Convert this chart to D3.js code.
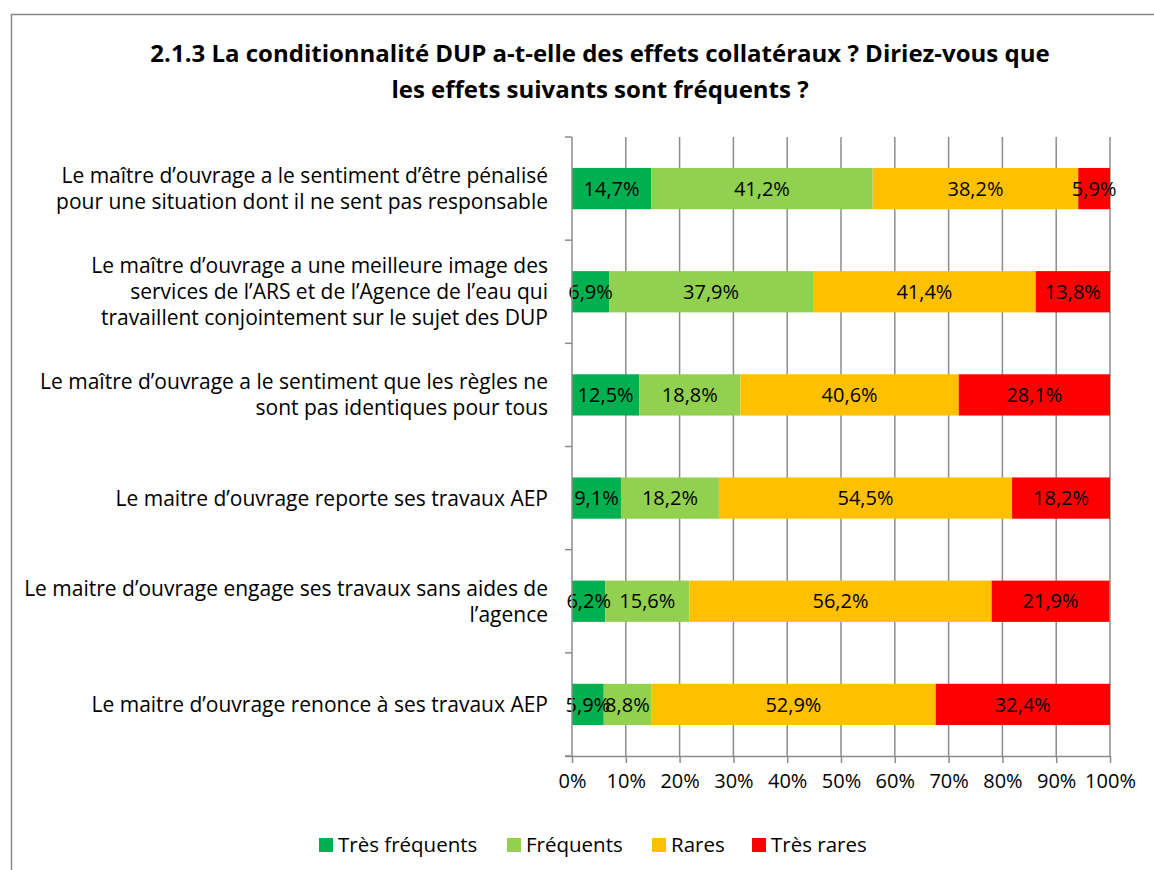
<!DOCTYPE html>
<html>
<head>
<meta charset="utf-8">
<script src="https://cdn.jsdelivr.net/npm/d3@7"></script>
<style>
  body { margin: 0; background: #fff; }
  svg { font-family: "Open Sans", sans-serif; }
</style>
</head>
<body>
<svg id="chart" width="1154" height="870"></svg>
<script>
// ----- data -----
const titleLines = [
    "2.1.3 La conditionnalité DUP a-t-elle des effets collatéraux ? Diriez-vous que",
    "les effets suivants sont fréquents ?"
];
const categories = [
    ["Le maître d’ouvrage a le sentiment d’être pénalisé", "pour une situation dont il ne sent pas responsable"],
    ["Le maître d’ouvrage a une meilleure image des", "services de l’ARS et de l’Agence de l’eau qui", "travaillent conjointement sur le sujet des DUP"],
    ["Le maître d’ouvrage a le sentiment que les règles ne", "sont pas identiques pour tous"],
    ["Le maitre d’ouvrage reporte ses travaux AEP"],
    ["Le maitre d’ouvrage engage ses travaux sans aides de", "l’agence"],
    ["Le maitre d’ouvrage renonce à ses travaux AEP"]
];
const seriesNames = ["Très fréquents", "Fréquents", "Rares", "Très rares"];
const tresFrequents = [14.7, 6.9, 12.5, 9.1, 6.2, 5.9];
const frequents = [41.2, 37.9, 18.8, 18.2, 15.6, 8.8];
const rares = [38.2, 41.4, 40.6, 54.5, 56.2, 52.9];
const tresRares = [5.9, 13.8, 28.1, 18.2, 21.9, 32.4];
const xTicks = [0, 10, 20, 30, 40, 50, 60, 70, 80, 90, 100];
const colors = ["#00B050", "#92D050", "#FFC000", "#FF0000"];

// ----- layout -----
const svg = d3.select("#chart");
const plot = { left: 572, right: 1110, top: 137, bottom: 756 };
const fmt = (v) => v.toFixed(1).replace(".", ",") + "%";

// frame (only top & left edges visible in the crop)
svg.append("path")
    .attr("d", "M11.5,870 V14.5 H1154")
    .attr("fill", "none")
    .attr("stroke", "#888")
    .attr("stroke-width", 1.5);

// title
svg.append("g")
    .selectAll("text")
    .data(titleLines)
    .join("text")
    .attr("x", 600)
    .attr("y", (d, i) => 62 + i * 36)
    .attr("text-anchor", "middle")
    .attr("font-weight", "bold")
    .attr("font-size", 24)
    .attr("fill", "#000")
    .text((d) => d);

const x = d3.scaleLinear().domain([0, 100]).range([plot.left, plot.right]);
const y = d3.scaleBand().domain(d3.range(categories.length)).range([plot.top, plot.bottom]).paddingInner(0.6).paddingOuter(0.3);
const yOuter = d3.scaleBand().domain(d3.range(categories.length)).range([plot.top, plot.bottom]);

// gridlines
svg.append("g")
    .selectAll("line")
    .data(xTicks.slice(1))
    .join("line")
    .attr("x1", (d) => x(d)).attr("x2", (d) => x(d))
    .attr("y1", plot.top).attr("y2", plot.bottom)
    .attr("stroke", "#8c8c8c")
    .attr("stroke-width", 1.5);

// stacked bars
const rows = categories.map((c, i) => ({ i, values: [tresFrequents[i], frequents[i], rares[i], tresRares[i]] }));
const stacked = d3.stack().keys([0, 1, 2, 3]).value((d, k) => d.values[k])(rows);

svg.append("g")
    .selectAll("g")
    .data(stacked)
    .join("g")
    .attr("fill", (d, k) => colors[k])
    .selectAll("rect")
    .data((d) => d)
    .join("rect")
    .attr("x", (d) => x(d[0]))
    .attr("y", (d) => y(d.data.i))
    .attr("width", (d) => x(d[1]) - x(d[0]))
    .attr("height", y.bandwidth());

// data labels
svg.append("g")
    .selectAll("g")
    .data(stacked)
    .join("g")
    .selectAll("text")
    .data((d) => d.map((s) => ({ s, key: d.key })))
    .join("text")
    .attr("x", (d) => (x(d.s[0]) + x(d.s[1])) / 2)
    .attr("y", (d) => y(d.s.data.i) + y.bandwidth() / 2)
    .attr("dy", "0.36em")
    .attr("text-anchor", "middle")
    .attr("font-size", 20)
    .attr("fill", "#000")
    .text((d) => fmt(d.s.data.values[d.key]));

// x axis
const xAxis = svg.append("g")
    .attr("transform", `translate(0,${plot.bottom})`)
    .call(d3.axisBottom(x).tickValues(xTicks).tickSize(7).tickPadding(11).tickFormat((d) => d + "%"));
xAxis.select(".domain").attr("d", `M${plot.left - 7},0.5H${plot.right}`).attr("stroke", "#8c8c8c").attr("stroke-width", 1.5);
xAxis.selectAll(".tick line").attr("stroke", "#8c8c8c").attr("stroke-width", 1.5);
xAxis.selectAll(".tick text").attr("font-size", 20).attr("fill", "#000").attr("font-family", "'Open Sans', sans-serif");

// y axis (ticks at category boundaries)
const yAxisG = svg.append("g");
yAxisG.append("line")
    .attr("x1", plot.left).attr("x2", plot.left)
    .attr("y1", plot.top).attr("y2", plot.bottom)
    .attr("stroke", "#8c8c8c").attr("stroke-width", 1.5);
yAxisG.selectAll("line.tk")
    .data(d3.range(categories.length + 1))
    .join("line")
    .attr("class", "tk")
    .attr("x1", plot.left - 7).attr("x2", plot.left)
    .attr("y1", (d) => plot.top + d * yOuter.step())
    .attr("y2", (d) => plot.top + d * yOuter.step())
    .attr("stroke", "#8c8c8c").attr("stroke-width", 1.5);

// category labels
const lineH = 26;
svg.append("g")
    .selectAll("text")
    .data(categories)
    .join("text")
    .attr("text-anchor", "end")
    .attr("font-size", 21)
    .attr("fill", "#000")
    .each(function (lines, i) {
        const cy = y(i) + y.bandwidth() / 2;
        const y0 = cy - ((lines.length - 1) * lineH) / 2;
        d3.select(this)
            .selectAll("tspan")
            .data(lines)
            .join("tspan")
            .attr("x", 548)
            .attr("y", (d, j) => y0 + j * lineH)
            .attr("dy", "0.36em")
            .text((d) => d);
    });

// legend
const legendX = [319, 507, 652, 752];
const legend = svg.append("g")
    .selectAll("g")
    .data(seriesNames)
    .join("g")
    .attr("transform", (d, i) => `translate(${legendX[i]},838)`);
legend.append("rect").attr("width", 14).attr("height", 14).attr("fill", (d, i) => colors[i]);
legend.append("text")
    .attr("x", 19)
    .attr("y", 7)
    .attr("dy", "0.36em")
    .attr("font-size", 20.5)
    .attr("fill", "#000")
    .text((d) => d);
</script>
</body>
</html>
